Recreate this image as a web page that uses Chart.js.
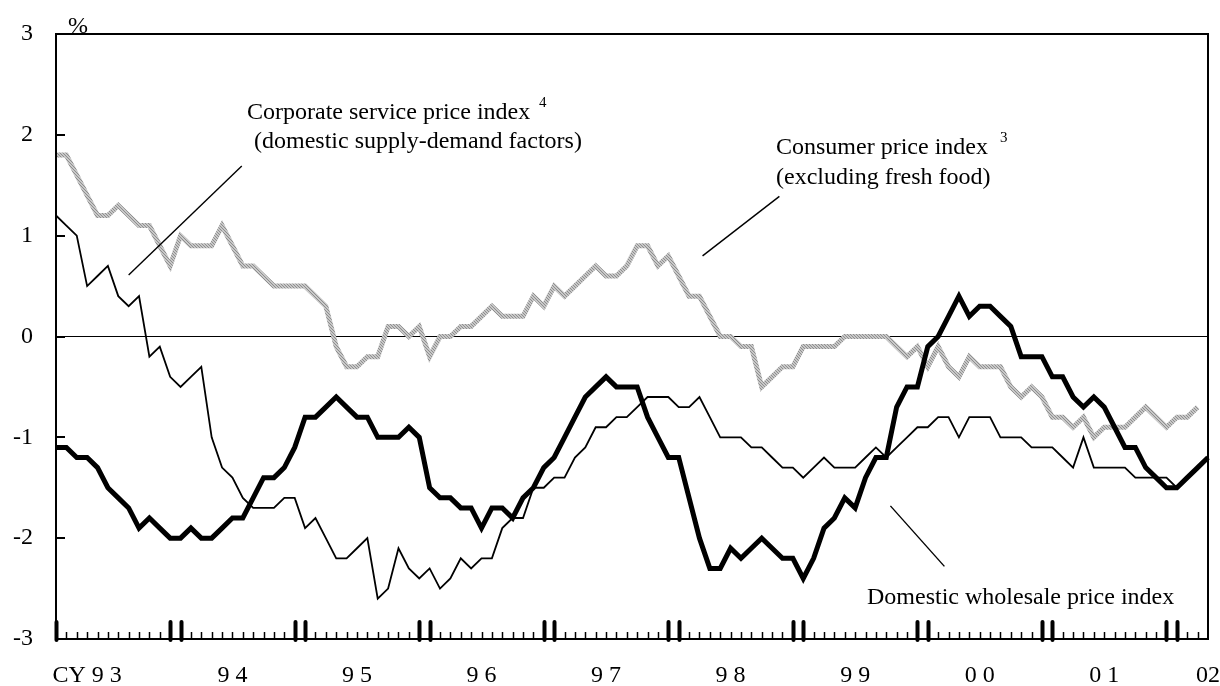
<!DOCTYPE html>
<html>
<head>
<meta charset="utf-8">
<script src="https://cdn.jsdelivr.net/npm/chart.js@4/dist/chart.umd.min.js"></script>
<style>
  html, body { margin: 0; padding: 0; background: #fff; }
  #wrap { width: 1220px; height: 686px; }
</style>
</head>
<body>
<div id="wrap"><canvas id="priceChart" width="1220" height="686"></canvas></div>
<script>
const FONT = '"Liberation Serif", "Times New Roman", serif';

// monthly categories, Jan 1993 .. Apr 2002
const months = [];
for (let y = 1993; months.length < 112; y++) {
    for (let m = 1; m <= 12 && months.length < 112; m++) {
        months.push(y + '/' + String(m).padStart(2, '0'));
    }
}

// year captions and the month they sit under
const yearTickIndex = [3, 17, 29, 41, 53, 65, 77, 89, 101, 111];
const yearTickText = ['CY 9 3', '9 4', '9 5', '9 6', '9 7', '9 8', '9 9', '0 0', '0 1', '02'];

const yTicks = [-3, -2, -1, 0, 1, 2, 3];

// y/y % changes
const wholesale = [
    -1.1, -1.1, -1.2, -1.2, -1.3, -1.5, -1.6, -1.7, -1.9, -1.8, -1.9, -2.0,
    -2.0, -1.9, -2.0, -2.0, -1.9, -1.8, -1.8, -1.6, -1.4, -1.4, -1.3, -1.1,
    -0.8, -0.8, -0.7, -0.6, -0.7, -0.8, -0.8, -1.0, -1.0, -1.0, -0.9, -1.0,
    -1.5, -1.6, -1.6, -1.7, -1.7, -1.9, -1.7, -1.7, -1.8, -1.6, -1.5, -1.3,
    -1.2, -1.0, -0.8, -0.6, -0.5, -0.4, -0.5, -0.5, -0.5, -0.8, -1.0, -1.2,
    -1.2, -1.6, -2.0, -2.3, -2.3, -2.1, -2.2, -2.1, -2.0, -2.1, -2.2, -2.2,
    -2.4, -2.2, -1.9, -1.8, -1.6, -1.7, -1.4, -1.2, -1.2, -0.7, -0.5, -0.5,
    -0.1, 0.0, 0.2, 0.4, 0.2, 0.3, 0.3, 0.2, 0.1, -0.2, -0.2, -0.2,
    -0.4, -0.4, -0.6, -0.7, -0.6, -0.7, -0.9, -1.1, -1.1, -1.3, -1.4, -1.5,
    -1.5, -1.4, -1.3, -1.2
];

const servicePrices = [
    1.2, 1.1, 1.0, 0.5, 0.6, 0.7, 0.4, 0.3, 0.4, -0.2, -0.1, -0.4,
    -0.5, -0.4, -0.3, -1.0, -1.3, -1.4, -1.6, -1.7, -1.7, -1.7, -1.6, -1.6,
    -1.9, -1.8, -2.0, -2.2, -2.2, -2.1, -2.0, -2.6, -2.5, -2.1, -2.3, -2.4,
    -2.3, -2.5, -2.4, -2.2, -2.3, -2.2, -2.2, -1.9, -1.8, -1.8, -1.5, -1.5,
    -1.4, -1.4, -1.2, -1.1, -0.9, -0.9, -0.8, -0.8, -0.7, -0.6, -0.6, -0.6,
    -0.7, -0.7, -0.6, -0.8, -1.0, -1.0, -1.0, -1.1, -1.1, -1.2, -1.3, -1.3,
    -1.4, -1.3, -1.2, -1.3, -1.3, -1.3, -1.2, -1.1, -1.2, -1.1, -1.0, -0.9,
    -0.9, -0.8, -0.8, -1.0, -0.8, -0.8, -0.8, -1.0, -1.0, -1.0, -1.1, -1.1,
    -1.1, -1.2, -1.3, -1.0, -1.3, -1.3, -1.3, -1.3, -1.4, -1.4, -1.4, -1.4,
    -1.5, null, null, null
];

const cpiCore = [
    1.8, 1.8, 1.6, 1.4, 1.2, 1.2, 1.3, 1.2, 1.1, 1.1, 0.9, 0.7,
    1.0, 0.9, 0.9, 0.9, 1.1, 0.9, 0.7, 0.7, 0.6, 0.5, 0.5, 0.5,
    0.5, 0.4, 0.3, -0.1, -0.3, -0.3, -0.2, -0.2, 0.1, 0.1, 0.0, 0.1,
    -0.2, 0.0, 0.0, 0.1, 0.1, 0.2, 0.3, 0.2, 0.2, 0.2, 0.4, 0.3,
    0.5, 0.4, 0.5, 0.6, 0.7, 0.6, 0.6, 0.7, 0.9, 0.9, 0.7, 0.8,
    0.6, 0.4, 0.4, 0.2, 0.0, 0.0, -0.1, -0.1, -0.5, -0.4, -0.3, -0.3,
    -0.1, -0.1, -0.1, -0.1, 0.0, 0.0, 0.0, 0.0, 0.0, -0.1, -0.2, -0.1,
    -0.3, -0.1, -0.3, -0.4, -0.2, -0.3, -0.3, -0.3, -0.5, -0.6, -0.5, -0.6,
    -0.8, -0.8, -0.9, -0.8, -1.0, -0.9, -0.9, -0.9, -0.8, -0.7, -0.8, -0.9,
    -0.8, -0.8, -0.7, null
];

// hatched grey stroke for the CPI line
function hatchPattern() {
    const c = document.createElement('canvas');
    c.width = 3;
    c.height = 3;
    const g = c.getContext('2d');
    g.fillStyle = '#c8c8c8';
    g.fillRect(0, 0, 3, 3);
    g.fillStyle = '#8e8e8e';
    g.fillRect(0, 0, 1, 1);
    g.fillRect(1, 1, 1, 1);
    g.fillRect(2, 2, 1, 1);
    return g.createPattern(c, 'repeat');
}

const notes = [
    { text: 'Corporate service price index', x: 247, y: 119 },
    { text: '(domestic supply-demand factors)', x: 254, y: 148 },
    { text: '4', x: 539, y: 107, size: 15 },
    { text: 'Consumer price index', x: 776, y: 154 },
    { text: '(excluding fresh food)', x: 776, y: 184 },
    { text: '3', x: 1000, y: 142, size: 15 },
    { text: 'Domestic wholesale price index', x: 867, y: 604 },
    { text: '%', x: 68, y: 33 }
];

// leader lines, in (month index, value)
const leaders = [
    [[7.0, 0.61], [17.9, 1.69]],
    [[69.7, 1.39], [62.3, 0.80]],
    [[80.4, -1.68], [85.6, -2.28]]
];

const framePlugin = {
    id: 'framePlugin',
    afterDatasetsDraw(chart) {
        const { ctx, chartArea: a, scales: { x, y } } = chart;
        ctx.save();
        ctx.strokeStyle = '#000';

        // month marks along the bottom, taller pair at each year change
        for (let i = 0; i < months.length - 1; i++) {
            const px = Math.round(x.getPixelForValue(i)) + 0.5;
            const edge = i % 12 === 0 || i % 12 === 11;
            ctx.beginPath();
            if (edge) {
                ctx.lineWidth = 4;
                ctx.lineCap = 'round';
                ctx.moveTo(px, a.bottom + 1);
                ctx.lineTo(px, a.bottom - 17);
            } else {
                ctx.lineWidth = 1.5;
                ctx.lineCap = 'butt';
                ctx.moveTo(px, a.bottom);
                ctx.lineTo(px, a.bottom - 7);
            }
            ctx.stroke();
        }

        // value marks on the left axis
        ctx.lineCap = 'butt';
        ctx.lineWidth = 2;
        for (const v of yTicks) {
            const py = Math.round(y.getPixelForValue(v));
            ctx.beginPath();
            ctx.moveTo(a.left, py);
            ctx.lineTo(a.left + 9, py);
            ctx.stroke();
        }

        ctx.lineWidth = 2;
        ctx.strokeRect(a.left, a.top, a.right - a.left, a.bottom - a.top);

        ctx.lineWidth = 1.4;
        for (const [p, q] of leaders) {
            ctx.beginPath();
            ctx.moveTo(x.getPixelForValue(p[0]), y.getPixelForValue(p[1]));
            ctx.lineTo(x.getPixelForValue(q[0]), y.getPixelForValue(q[1]));
            ctx.stroke();
        }

        ctx.fillStyle = '#000';
        ctx.textBaseline = 'alphabetic';
        ctx.textAlign = 'left';
        for (const n of notes) {
            ctx.font = (n.size || 24) + 'px ' + FONT;
            ctx.fillText(n.text, n.x, n.y);
        }
        ctx.restore();
    }
};

const ctx = document.getElementById('priceChart').getContext('2d');
const chart = new Chart(ctx, {
    type: 'line',
    data: {
        labels: months,
        datasets: [
            {
                label: 'Domestic wholesale price index',
                data: wholesale,
                borderColor: '#000',
                borderWidth: 5,
                pointRadius: 0,
                tension: 0,
                fill: false
            },
            {
                label: 'Corporate service price index',
                data: servicePrices,
                borderColor: '#000',
                borderWidth: 1.8,
                pointRadius: 0,
                tension: 0,
                fill: false
            },
            {
                label: 'Consumer price index',
                data: cpiCore,
                borderColor: hatchPattern(),
                borderWidth: 5,
                pointRadius: 0,
                tension: 0,
                fill: false
            }
        ]
    },
    options: {
        responsive: false,
        animation: false,
        events: [],
        layout: { padding: { top: 34, right: 12, left: 0, bottom: 0 } },
        plugins: {
            legend: { display: false },
            tooltip: { enabled: false }
        },
        scales: {
            x: {
                type: 'category',
                offset: false,
                border: { display: false },
                grid: { display: false, drawTicks: false },
                afterFit: scale => {
                    scale.height = 47;
                    scale.paddingLeft = 0;
                    scale.paddingRight = 0;
                },
                ticks: {
                    autoSkip: false,
                    maxRotation: 0,
                    minRotation: 0,
                    padding: 22,
                    color: '#000',
                    font: { family: FONT, size: 24 },
                    callback: (val, i) => {
                        const k = yearTickIndex.indexOf(i);
                        return k >= 0 ? yearTickText[k] : '';
                    }
                }
            },
            y: {
                min: -3,
                max: 3,
                border: { display: false },
                grid: {
                    drawTicks: false,
                    lineWidth: 1,
                    color: c => (c.tick && c.tick.value === 0 ? '#000' : 'rgba(0,0,0,0)')
                },
                afterFit: scale => {
                    scale.width = 56;
                    scale.paddingTop = 0;
                    scale.paddingBottom = 0;
                },
                ticks: {
                    stepSize: 1,
                    padding: 23,
                    color: '#000',
                    font: { family: FONT, size: 24 },
                    callback: v => String(v)
                }
            }
        }
    },
    plugins: [framePlugin]
});
</script>
</body>
</html>
